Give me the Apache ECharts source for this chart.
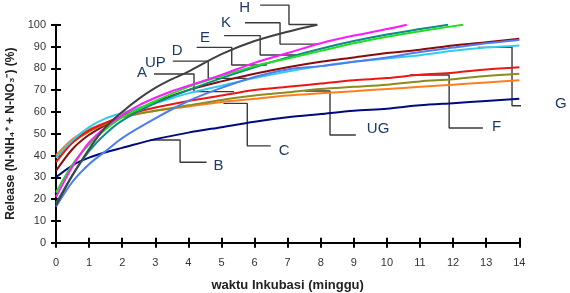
<!DOCTYPE html>
<html>
<head>
<meta charset="utf-8">
<script src="https://cdn.jsdelivr.net/npm/echarts@6/dist/echarts.min.js"></script>
<style>
  html, body { margin: 0; padding: 0; background: #fff; }
  #grafik { width: 570px; height: 293px; }
</style>
</head>
<body>
<div id="grafik"></div>
<script>
(function () {
    "use strict";

    // sumbu x (minggu) per kurva
    var mingguPenuh = [0, 0.5, 1, 1.5, 2, 3, 4, 5, 6, 7, 8, 9, 10, 11, 12, 13, 14];
    var mingguH = [0, 0.5, 1, 1.5, 2, 2.5, 3, 3.5, 4, 5, 6, 7, 7.9];
    var mingguK = [0, 0.5, 1, 1.5, 2, 2.5, 3, 3.5, 4, 5, 6, 7, 8, 9, 10, 10.6];
    var mingguTeal = [0, 0.5, 1, 1.5, 2, 3, 4, 5, 6, 7, 8, 9, 10, 11, 11.85];
    var mingguHijau = [0, 0.5, 1, 1.5, 2, 3, 4, 5, 6, 7, 8, 9, 10, 11, 12.3];

    // release (%)
    var abuAbu = [17, 31, 43, 53, 60, 66, 71, 75, 78.5, 86.5, 92.5, 96.8, 100];
    var magenta = [21, 35, 46, 53, 58.5, 63, 66.5, 69.5, 72, 77, 82.5, 87, 91.5, 95, 98, 100];
    var teal = [18, 31, 42, 50, 56, 64, 70, 75.5, 80.5, 85, 89, 92.5, 95.5, 98, 100];
    var hijau = [23, 36, 45, 52, 57.5, 65, 71.5, 76.5, 81, 84.5, 88, 91.5, 94.5, 97, 100];
    var merahTua = [33, 43, 49.5, 54, 58, 64.5, 70, 74, 77.5, 80.5, 83, 85, 87, 88.5, 90.5, 92, 93.5];
    var sian = [39, 47, 53, 57, 59.5, 64, 68.5, 72, 75.5, 78.5, 81, 83, 84.5, 86, 88, 89.5, 90.5];
    var biru = [16.5, 28, 36, 42, 48, 57, 65, 71, 76, 79.5, 81, 83, 85, 87.5, 89.5, 91.5, 93];
    var merah = [37, 46, 51.5, 55, 58, 62, 65, 67.5, 70, 71.5, 73, 74.5, 75.5, 77, 78, 79.5, 80.5];
    var zaitun = [39, 46, 51, 54.5, 57.5, 60.5, 63, 65.5, 67.5, 69, 70.5, 71.5, 72.5, 74, 75, 76.5, 77.5];
    var oranye = [40, 47.5, 52, 55, 57.5, 60.5, 62.5, 64.5, 66, 67.5, 68.5, 69.5, 70.5, 71.5, 72.5, 73.5, 74.5];
    var navy = [30, 35.5, 39, 41.5, 43.5, 47.5, 50.5, 53, 55.5, 57.5, 59, 60.5, 61.5, 63, 64, 65, 66];

    // label penunjuk (teks)
    var labelKiri = ['H', 'K', 'E', 'D', 'UP', 'A'];
    var labelKanan = ['B', 'C', 'UG', 'F', 'G'];

    // garis penunjuk, koordinat data [minggu, %]
    var penunjukKiri = [
        [[6.17, 109], [7.04, 109], [7.04, 100.1], [7.89, 100.1]],
        [[5.71, 100.9], [6.77, 100.9], [6.77, 91.1], [7.89, 91.1]],
        [[5.08, 95.0], [6.17, 95.0], [6.17, 86.1], [7.31, 86.1]],
        [[4.25, 89.6], [5.31, 89.6], [5.31, 81.5], [6.37, 81.5]],
        [[3.53, 83.3], [4.60, 83.3], [4.60, 75.4], [5.76, 75.4]],
        [[2.96, 77.4], [4.17, 77.4], [4.17, 69.3], [5.38, 69.3]]
    ];
    var penunjukKanan = [
        [[2.84, 47.1], [3.75, 47.1], [3.75, 36.9], [4.55, 36.9]],
        [[5.06, 63.9], [5.78, 63.9], [5.78, 44.4], [6.49, 44.4]],
        [[7.53, 69.6], [8.28, 69.6], [8.28, 49.4], [9.06, 49.4]],
        [[10.70, 76.9], [11.88, 76.9], [11.88, 52.6], [12.90, 52.6]],
        [[12.75, 89.6], [13.78, 89.6], [13.78, 62.8], [14.78, 62.8]]
    ];
    // geser teks label (px) [jarak, geser vertikal]
    var geserKiri = [[10, 3], [14, 0], [14, 2], [14, 3], [7, 2], [7, -1]];
    var geserKanan = [[7, 4], [8, 5], [11, -6], [9, -1], [10, -2]];

    function pasang(xs, ys) {
        var out = [];
        for (var i = 0; i < ys.length; i++) {
            out.push([xs[i], ys[i]]);
        }
        return out;
    }

    var kurva = [
        { data: pasang(mingguPenuh, merahTua), color: '#8b0a0a' },
        { data: pasang(mingguPenuh, navy), color: '#000a80' },
        { data: pasang(mingguPenuh, oranye), color: '#ff7f1e' },
        { data: pasang(mingguPenuh, zaitun), color: '#8c8c1e' },
        { data: pasang(mingguPenuh, merah), color: '#ee1515' },
        { data: pasang(mingguPenuh, sian), color: '#33ccf0' },
        { data: pasang(mingguPenuh, biru), color: '#4f7df0' },
        { data: pasang(mingguTeal, teal), color: '#0e8a88' },
        { data: pasang(mingguHijau, hijau), color: '#22dd22' },
        { data: pasang(mingguK, magenta), color: '#ff1aff' },
        { data: pasang(mingguH, abuAbu), color: '#404040' }
    ];

    var warnaTeks = '#1f3b63';
    var series = [];

    kurva.forEach(function (k) {
        series.push({
            type: 'line',
            data: k.data,
            smooth: 0.3,
            showSymbol: false,
            lineStyle: { color: k.color, width: 2 },
            z: 3
        });
    });

    function garisPenunjuk(titik, teks, kiri, geser) {
        var data = titik.map(function (p, i) {
            var item = { value: p };
            var jadiLabel = kiri ? i === 0 : i === titik.length - 1;
            if (jadiLabel) {
                item.label = {
                    show: true,
                    position: kiri ? 'left' : 'right',
                    distance: geser[0],
                    offset: [0, geser[1]],
                    formatter: teks,
                    color: warnaTeks,
                    fontSize: 15,
                    fontFamily: 'Liberation Sans, Arial, sans-serif'
                };
            }
            return item;
        });
        return {
            type: 'line',
            data: data,
            clip: false,
            symbol: 'circle',
            symbolSize: 0.01,
            showSymbol: true,
            lineStyle: { color: '#3a3a3a', width: 1.4 },
            itemStyle: { color: '#3a3a3a' },
            z: 2
        };
    }

    penunjukKiri.forEach(function (p, i) {
        series.push(garisPenunjuk(p, labelKiri[i], true, geserKiri[i]));
    });
    penunjukKanan.forEach(function (p, i) {
        series.push(garisPenunjuk(p, labelKanan[i], false, geserKanan[i]));
    });

    var hurufSumbu = { color: '#333', fontSize: 11, fontFamily: 'Liberation Sans, Arial, sans-serif' };

    var chart = echarts.init(document.getElementById('grafik'), null, { renderer: 'canvas' });
    chart.setOption({
        animation: false,
        backgroundColor: '#fff',
        grid: { left: 56, right: 50.7, top: 24.7, bottom: 50.3, outerBoundsMode: 'none' },
        xAxis: [{
            type: 'value',
            min: 0,
            max: 14,
            interval: 1,
            name: 'waktu Inkubasi (minggu)',
            nameLocation: 'middle',
            nameGap: 36,
            nameTextStyle: { fontWeight: 'bold', fontSize: 13, color: '#222', fontFamily: 'Liberation Sans, Arial, sans-serif' },
            axisLine: { show: true, onZero: false, lineStyle: { color: '#000', width: 2 } },
            axisTick: { show: true, length: 5, lineStyle: { color: '#000', width: 2 } },
            axisLabel: Object.assign({ margin: 15, showMinLabel: true, showMaxLabel: true }, hurufSumbu),
            splitLine: { show: false }
        }, {
            type: 'value',
            position: 'bottom',
            min: 0,
            max: 14,
            interval: 1,
            axisLine: { show: false },
            axisTick: { show: true, inside: true, length: 5, lineStyle: { color: '#000', width: 2 } },
            axisLabel: { show: false },
            splitLine: { show: false }
        }],
        yAxis: [{
            type: 'value',
            min: 0,
            max: 100,
            interval: 10,
            name: 'Release (N-NH\u2084\u207A + N-NO\u2083\u207B) (%)',
            nameLocation: 'middle',
            nameGap: 30,
            nameTextStyle: { fontWeight: 'bold', fontSize: 12, color: '#222', fontFamily: 'Liberation Sans, Arial, sans-serif' },
            axisLine: { show: true, onZero: false, lineStyle: { color: '#000', width: 2 } },
            axisTick: { show: true, length: 5, lineStyle: { color: '#000', width: 2 } },
            axisLabel: Object.assign({ margin: 10, showMinLabel: true, showMaxLabel: true }, hurufSumbu),
            splitLine: { show: false }
        }, {
            type: 'value',
            position: 'left',
            min: 0,
            max: 100,
            interval: 10,
            axisLine: { show: false },
            axisTick: { show: true, inside: true, length: 5, lineStyle: { color: '#000', width: 2 } },
            axisLabel: { show: false },
            splitLine: { show: false }
        }],
        series: series
    });
}());
</script>
</body>
</html>
